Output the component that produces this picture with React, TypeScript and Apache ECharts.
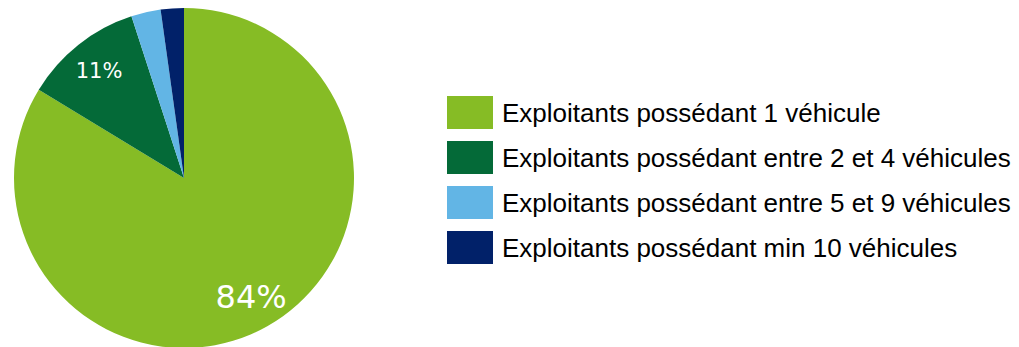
import React, { useEffect, useRef } from "react";
import * as echarts from "echarts";

const categories = [
  "Exploitants possédant 1 véhicule",
  "Exploitants possédant entre 2 et 4 véhicules",
  "Exploitants possédant entre 5 et 9 véhicules",
  "Exploitants possédant min 10 véhicules",
];
const shares = [83.7, 11.3, 2.8, 2.2];
const colors = ["#86BC25", "#046A38", "#62B5E5", "#012169"];

export default function App() {
  const ref = useRef<HTMLDivElement>(null);
  useEffect(() => {
    if (!ref.current) return;
    const chart = echarts.init(ref.current, null, { renderer: "svg" });
    const labelSize = (v: number) => (v >= 50 ? 32 : v >= 5 ? 21 : 0);
    chart.setOption({
      animation: false,
      color: colors,
      legend: {
        orient: "vertical",
        left: 442,
        top: 91,
        itemWidth: 46,
        itemHeight: 33,
        itemGap: 12,
        icon: "rect",
        data: categories,
        textStyle: {
          fontFamily: "Liberation Sans, Arial, sans-serif",
          fontSize: 26,
          color: "#000",
          padding: [0, 0, 0, 4],
        },
      },
      series: [
        {
          type: "pie",
          center: [184, 178],
          radius: [0, 170],
          startAngle: 90,
          clockwise: true,
          silent: true,
          label: { show: false },
          labelLine: { show: false },
          itemStyle: { borderWidth: 0 },
          data: categories.map((name, i) => ({ name, value: shares[i] })),
        },
        {
          type: "pie",
          center: [184, 178],
          radius: [100, 168],
          startAngle: 90,
          clockwise: true,
          silent: true,
          itemStyle: { color: "rgba(0,0,0,0)", borderWidth: 0 },
          labelLine: { show: false },
          label: {
            position: "inside",
            color: "#fff",
            fontFamily: "DejaVu Sans, Verdana, sans-serif",
            formatter: (p: any) => Math.round(p.value) + "%",
          },
          data: categories.map((name, i) => ({
            name,
            value: shares[i],
            label: {
              show: labelSize(shares[i]) > 0,
              fontSize: labelSize(shares[i]) || 12,
            },
          })),
        },
      ],
    });
    return () => chart.dispose();
  }, []);
  return (
    <div
      ref={ref}
      style={{ position: "fixed", left: 0, top: 0, width: 1019, height: 347, background: "#fff" }}
    />
  );
}
